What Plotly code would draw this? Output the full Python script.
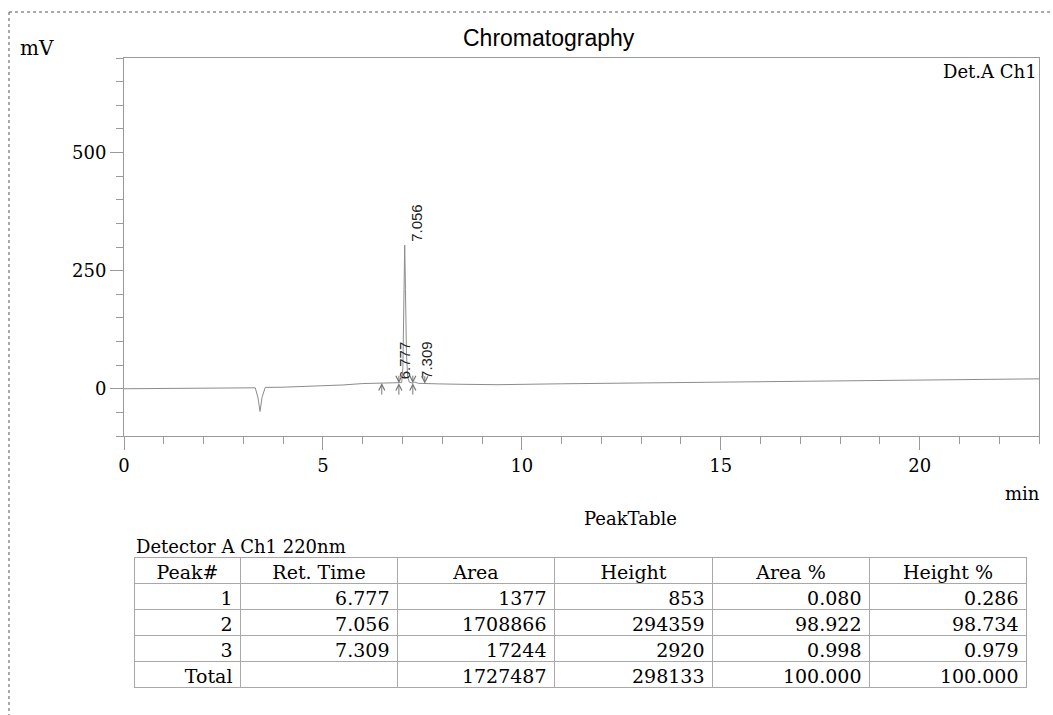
import numpy as np
import plotly.graph_objects as go

# ---------------- data ----------------
time_min = [0.0, 1.0, 2.0, 3.0, 3.30, 3.37, 3.42, 3.47, 3.55, 4.0, 5.0, 5.5, 6.0, 6.48,
            6.70, 6.777, 6.85, 6.91, 6.98, 7.01, 7.035, 7.056, 7.075, 7.10, 7.13, 7.17,
            7.26, 7.309, 7.40, 7.56, 7.9, 8.5, 9.4, 11.0, 13.0, 15.5, 18.0, 20.0, 23.0]
signal_mv = [0.0, 0.5, 1.0, 1.6, 2.0, -20.0, -48.0, -18.0, 2.8, 3.3, 5.7, 8.0, 11.0, 12.0,
             12.2, 12.8, 12.0, 11.8, 13.0, 45.0, 180.0, 304.0, 210.0, 75.0, 25.0, 14.0,
             11.8, 14.0, 11.5, 10.8, 10.3, 9.4, 8.6, 10.5, 12.5, 14.5, 17.0, 18.5, 21.0]

peak_no = ["1", "2", "3", "Total"]
ret_time = [6.777, 7.056, 7.309]
area = ["1377", "1708866", "17244", "1727487"]
height = ["853", "294359", "2920", "298133"]
area_pct = ["0.080", "98.922", "0.998", "100.000"]
height_pct = ["0.286", "98.734", "0.979", "100.000"]
peak_start = [6.48, 6.91, 7.26]
peak_end = [6.91, 7.26, 7.56]

table_header = ["Peak#", "Ret. Time", "Area", "Height", "Area %", "Height %"]
x_ticks = [0, 5, 10, 15, 20]
y_ticks = [0, 250, 500]

# ---------------- layout helpers ----------------
W, H = 1053, 715
def px(x): return x / W
def py(y): return 1 - y / H

SERIF = "DejaVu Serif"
SANS = "Liberation Sans, Arial"
GRAY = "#8c8c8c"
AX = "#9a9a9a"

fig = go.Figure()
fig.add_trace(go.Scatter(x=time_min, y=signal_mv, mode="lines",
                         line=dict(color=GRAY, width=1), hoverinfo="skip",
                         showlegend=False))

# table
fig.add_trace(go.Table(
    domain=dict(x=[px(134.5), px(1027)], y=[py(695), py(557)]),
    columnwidth=[106, 157, 157, 158, 157, 157],
    header=dict(values=table_header, align="center", height=26,
                font=dict(family=SERIF, size=19, color="black"),
                fill_color="white", line=dict(color="#a8a8a8", width=1)),
    cells=dict(values=[peak_no, [f"{t:.3f}" for t in ret_time] + [""], area, height,
                       area_pct, height_pct],
               align="right", height=26,
               font=dict(family=SERIF, size=19, color="black"),
               fill_color="white", line=dict(color="#a8a8a8", width=1)),
))

annotations = []
# peak labels
for rt in ret_time:
    yv = float(np.interp(rt, time_min, signal_mv))
    annotations.append(dict(x=rt, y=yv, xref="x", yref="y", text=f"{rt:.3f}",
                            textangle=-90, showarrow=False, xanchor="center",
                            yanchor="bottom", xshift=11, yshift=1,
                            font=dict(family=SANS, size=15, color="#222")))
# start / end markers
for t in peak_start:
    yv = float(np.interp(t, time_min, signal_mv))
    annotations.append(dict(x=t, y=yv, xref="x", yref="y", text="", showarrow=True,
                            ax=0, ay=13, arrowhead=5, arrowsize=1.2, arrowwidth=1,
                            arrowcolor="#777", standoff=0))
for t in peak_end:
    yv = float(np.interp(t, time_min, signal_mv))
    annotations.append(dict(x=t, y=yv, xref="x", yref="y", text="", showarrow=True,
                            ax=0, ay=-9, arrowhead=5, arrowsize=1.2, arrowwidth=1,
                            arrowcolor="#777", standoff=0))

# texts
def txt(x, y, s, xa, fam, size):
    return dict(x=px(x), y=py(y), xref="paper", yref="paper", text=s, xanchor=xa,
                yanchor="middle", showarrow=False,
                font=dict(family=fam, size=size, color="black"))

annotations += [
    txt(549, 38, "Chromatography", "center", SANS, 23),
    txt(18, 48, "mV", "left", SERIF, 20),
    txt(1039, 71, "Det.A Ch1", "right", SERIF, 18),
    txt(1042, 493, "min", "right", SERIF, 18),
    txt(630, 518, "PeakTable", "center", SERIF, 18),
    txt(134, 546, "Detector A Ch1 220nm", "left", SERIF, 18),
]

shapes = [
    dict(type="line", xref="paper", yref="paper", x0=px(9), x1=px(9), y0=py(12), y1=0,
         line=dict(color="#555", width=1, dash="dot")),
    dict(type="line", xref="paper", yref="paper", x0=px(9), x1=1, y0=py(12), y1=py(12),
         line=dict(color="#555", width=1, dash="dot")),
]

fig.update_layout(
    width=W, height=H, margin=dict(l=0, r=0, t=0, b=0),
    paper_bgcolor="white", plot_bgcolor="white",
    showlegend=False, annotations=annotations, shapes=shapes,
    xaxis=dict(domain=[px(124), px(1039)], range=[0, 23], tickvals=x_ticks,
               ticks="outside", ticklen=13, tickcolor=AX, showline=True, linecolor=AX,
               mirror=True, showgrid=False, zeroline=False, automargin=False,
               minor=dict(dtick=1, tick0=0, ticks="outside", ticklen=7, tickcolor=AX,
                          showgrid=False),
               tickfont=dict(family=SERIF, size=18, color="black")),
    yaxis=dict(domain=[py(436), py(58)], range=[-100, 700], tickvals=y_ticks,
               ticks="outside", ticklen=13, tickcolor=AX, showline=True, linecolor=AX,
               mirror=True, showgrid=False, zeroline=False, automargin=False,
               minor=dict(dtick=50, tick0=0, ticks="outside", ticklen=7, tickcolor=AX,
                          showgrid=False),
               tickfont=dict(family=SERIF, size=18, color="black")),
)

fig.write_html("out.html", config={"displayModeBar": False},
               post_script="document.body.style.margin='0';document.body.style.overflow='hidden';")
